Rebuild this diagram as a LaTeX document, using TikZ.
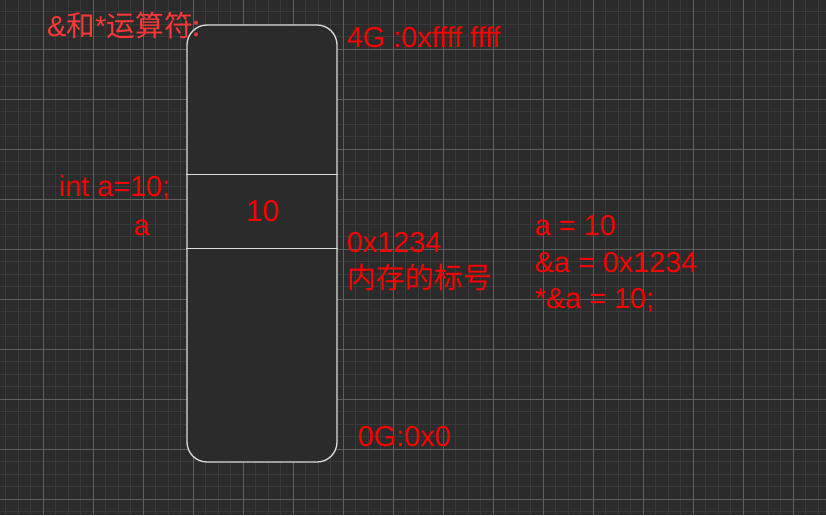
\documentclass[tikz,border=0pt]{standalone}
\usepackage{fontspec}
\setmainfont{Liberation Sans}
\newfontfamily\cjk{Noto Sans CJK SC}
\usetikzlibrary{positioning}
\definecolor{bg}{RGB}{43,43,43}
\definecolor{gminor}{RGB}{58,58,58}
\definecolor{gmajor}{RGB}{95,95,95}
\definecolor{memline}{RGB}{220,220,220}
\definecolor{txt}{RGB}{255,0,0}
\definecolor{ttl}{RGB}{255,55,55}
\tikzset{
  lbl/.style={anchor=base west,inner sep=0pt,text=txt,font=\fontsize{28.8}{34}\selectfont},
  mem/.style={rectangle,draw=memline,line width=1.3pt,fill=bg,rounded corners=20pt,minimum width=150pt,minimum height=437pt,inner sep=0pt},
  div/.style={draw=memline,line width=1.3pt},
}

\begin{document}
\begin{tikzpicture}[x=1pt,y=-1pt]
  % background and grid
  \useasboundingbox (0,0) rectangle (826,515);
  \clip (0,0) rectangle (826,515);
  \fill[bg] (0,0) rectangle (826,515);
  \foreach \i in {0,...,66} \draw[gminor,line width=1pt] ({5.83+12.5*\i},0) -- ++(0,515);
  \foreach \i in {0,...,41} \draw[gminor,line width=1pt] (0,{11.8+12.5*\i}) -- ++(826,0);
  \foreach \i in {0,...,16} \draw[gmajor,line width=1pt] ({43.33+50*\i},0) -- ++(0,515);
  \foreach \i in {0,...,9} \draw[gmajor,line width=1pt] (0,{49.3+50*\i}) -- ++(826,0);

  % memory
  \node[mem] (mem) at (262,243.5) {};
  \draw[div] ([yshift=-150pt]mem.north west) -- ([yshift=-150pt]mem.north east);
  \draw[div] ([yshift=-224pt]mem.north west) -- ([yshift=-224pt]mem.north east);
  \node[lbl,anchor=base,font=\fontsize{30}{34}\selectfont] (val) at (263,221.5) {10};

  % labels
  \node[lbl,text=ttl] (title) at (47,36) {\&{\cjk 和}*{\cjk 运算符:}};
  \node[lbl] (top) at (347,47) {4G :0xffff ffff};
  \node[lbl] (decl) at (59,196) {int a=10;};
  \node[lbl] (var) at (134,235) {a};
  \node[lbl] (addr) at (347,252) {0x1234};
  \node[lbl,font=\cjk\fontsize{29}{34}\selectfont] (note) at (347,288) {内存的标号};
  \node[lbl] (bot) at (358,446) {0G:0x0};
  \node[lbl] (r1) at (535,235) {a = 10};
  \node[lbl] (r2) at (535,272) {\&a = 0x1234};
  \node[lbl] (r3) at (535,308) {*\&a = 10;};
\end{tikzpicture}
\end{document}
